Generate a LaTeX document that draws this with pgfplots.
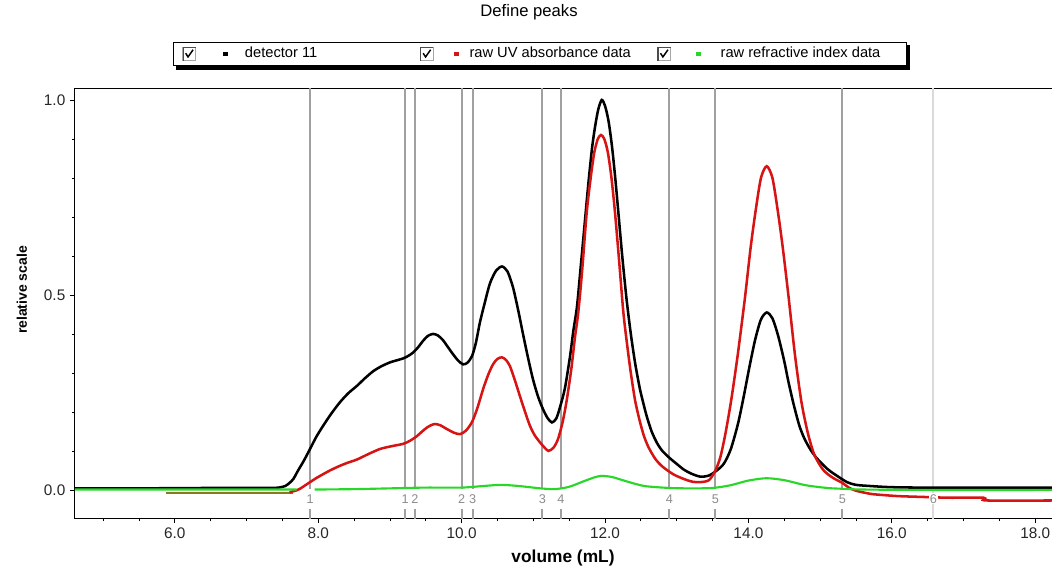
\documentclass[border=0pt]{standalone}
\usepackage{fontspec}
\setmainfont{Liberation Sans}
\usepackage{pgfplots}
\pgfplotsset{compat=1.18}

\definecolor{vline}{RGB}{160,160,160}
\definecolor{vlinelight}{RGB}{218,218,218}
\definecolor{uvred}{RGB}{215,20,20}
\definecolor{rigreen}{RGB}{40,215,40}
\definecolor{oliveline}{RGB}{140,120,30}

% checkbox + dot used as legend image; #1 dot x, #2 dot colour, #3 where the text starts
\newcommand{\chk}[3]{%
  \fill[white] (0pt,-4.9pt) rectangle (9.75pt,4.9pt);
  \draw[line width=0.6pt, black!35] (0pt,-4.9pt) rectangle (9.75pt,4.9pt);
  \draw[line width=0.9pt, black!70] (0.3pt,-4.9pt) -- (0.3pt,4.6pt) -- (9.75pt,4.6pt);
  \draw[line width=1.1pt, black] (2.2pt,0.6pt) -- (4pt,-2.2pt) -- (7.8pt,3.2pt);
  \fill[#2] ([xshift=-0.8pt]#1,-0.8pt) rectangle ([xshift=0.8pt]#1,0.8pt);
  \path (#3,0pt);
}

\begin{document}
\begin{tikzpicture}
\begin{axis}[
  scale only axis,
  width=736.29pt, height=321.75pt,
  xmin=4.608, xmax=18.3,
  ymin=-0.072, ymax=1.028,
  xtick={6,8,...,18},
  minor xtick={5,5.5,...,18},
  ytick={0,0.5,1},
  minor ytick={0.1,0.2,0.3,0.4,0.6,0.7,0.8,0.9},
  tick align=outside,
  xtick pos=lower, ytick pos=left,
  major tick length=3.75pt, minor tick length=2.25pt,
  tick style={black, line width=0.6pt},
  axis line style={line width=0.75pt},
  ticklabel style={font=\fontsize{11.5}{13}\selectfont, text=black!85},
  xticklabel style={/pgf/number format/fixed, /pgf/number format/fixed zerofill,
    /pgf/number format/precision=1, /pgf/number format/assume math mode=true},
  yticklabel style={/pgf/number format/fixed, /pgf/number format/fixed zerofill,
    /pgf/number format/precision=1, /pgf/number format/assume math mode=true},
  title={Define peaks},
  title style={at={(0.4625,1.1608)}, anchor=center, font=\fontsize{12.5}{14}\selectfont},
  xlabel={volume (mL)},
  xlabel style={at={(axis description cs:0.4971,-0.0932)}, anchor=center,
    font=\bfseries\fontsize{13}{15}\selectfont},
  ylabel={relative scale},
  ylabel style={at={(axis description cs:-0.054,0.5315)}, anchor=center,
    font=\bfseries\fontsize{10.5}{12}\selectfont},
  legend columns=3,
  legend cell align=left,
  legend style={name=lgd, at={(0.4737,1.0816)}, anchor=center, draw=black, line width=0.6pt,
    fill=white, inner xsep=6pt, inner ysep=3pt,
    font=\fontsize{11}{13}\selectfont,
    nodes={inner sep=0pt, text depth=0.25em, text height=0.8em}},
  unbounded coords=jump,
]

% peak boundaries
\addplot[vline, line width=1.4pt, forget plot] coordinates {
  (7.886,1.03) (7.886,0.003) (7.886,nan)
  (9.211,1.03) (9.211,0.003) (9.211,nan)
  (9.350,1.03) (9.350,0.003) (9.350,nan)
  (10.001,1.03) (10.001,0.003) (10.001,nan)
  (10.155,1.03) (10.155,0.003) (10.155,nan)
  (11.126,1.03) (11.126,0.003) (11.126,nan)
  (11.386,1.03) (11.386,0.003) (11.386,nan)
  (12.897,1.03) (12.897,0.003) (12.897,nan)
  (13.538,1.03) (13.538,0.003) (13.538,nan)
  (15.310,1.03) (15.310,0.003)
};
\addplot[vline, line width=1.4pt, forget plot] coordinates {
  (7.886,-0.048) (7.886,-0.075) (7.886,nan)
  (9.211,-0.048) (9.211,-0.075) (9.211,nan)
  (9.350,-0.048) (9.350,-0.075) (9.350,nan)
  (10.001,-0.048) (10.001,-0.075) (10.001,nan)
  (10.155,-0.048) (10.155,-0.075) (10.155,nan)
  (11.126,-0.048) (11.126,-0.075) (11.126,nan)
  (11.386,-0.048) (11.386,-0.075) (11.386,nan)
  (12.897,-0.048) (12.897,-0.075) (12.897,nan)
  (13.538,-0.048) (13.538,-0.075) (13.538,nan)
  (15.310,-0.048) (15.310,-0.075)
};
\addplot[vlinelight, line width=1.4pt, forget plot] coordinates {(16.579,1.03) (16.579,-0.075)};

% olive overlap at the start of the UV trace
\addplot[oliveline, line width=1.6pt, forget plot] coordinates {(5.88,-0.008) (7.65,-0.008)};

% detector 11
\addplot[black, line width=1.9pt, smooth, tension=0.45,
  legend image code/.code={\chk{32.25pt}{black}{45.75pt}}] coordinates {
  (4.608,0.004) (5.5,0.004) (6.5,0.005) (7.3,0.005) (7.45,0.006) (7.54,0.01) (7.6,0.018)
  (7.653,0.028) (7.72,0.05) (7.8,0.075) (7.886,0.105) (7.97,0.135) (8.067,0.164)
  (8.18,0.195) (8.304,0.225) (8.42,0.248) (8.541,0.267) (8.65,0.286) (8.764,0.304)
  (8.88,0.317) (9.001,0.327) (9.09,0.332) (9.182,0.337) (9.25,0.343) (9.322,0.352)
  (9.39,0.365) (9.461,0.382) (9.53,0.395) (9.601,0.40) (9.67,0.396) (9.74,0.384)
  (9.81,0.366) (9.88,0.348) (9.95,0.332) (10.019,0.322) (10.08,0.326) (10.145,0.343)
  (10.2,0.378) (10.256,0.43) (10.33,0.485) (10.396,0.53) (10.48,0.562) (10.563,0.573)
  (10.64,0.56) (10.716,0.52) (10.79,0.46) (10.856,0.40) (10.925,0.34) (10.995,0.284)
  (11.065,0.24) (11.135,0.207) (11.2,0.184) (11.26,0.173) (11.32,0.183) (11.372,0.212)
  (11.44,0.26) (11.51,0.34) (11.56,0.41) (11.609,0.47) (11.66,0.57) (11.72,0.69)
  (11.77,0.79) (11.818,0.875) (11.86,0.93) (11.905,0.975) (11.954,1.0) (12.0,0.985)
  (12.05,0.945) (12.098,0.88) (12.14,0.805) (12.182,0.72) (12.24,0.6) (12.3,0.49)
  (12.36,0.40) (12.42,0.325) (12.48,0.265) (12.517,0.235) (12.58,0.19) (12.65,0.15)
  (12.726,0.12) (12.8,0.1) (12.9,0.082) (13.005,0.066) (13.1,0.052) (13.2,0.042)
  (13.33,0.034) (13.45,0.037) (13.56,0.05) (13.66,0.068) (13.755,0.105) (13.855,0.17)
  (13.935,0.24) (14.015,0.316) (14.095,0.386) (14.175,0.437) (14.255,0.455) (14.335,0.44)
  (14.415,0.395) (14.5,0.33) (14.555,0.28) (14.63,0.22) (14.71,0.165) (14.78,0.132)
  (14.86,0.105) (14.95,0.082) (15.1,0.054) (15.22,0.038) (15.375,0.02) (15.5,0.013)
  (15.7,0.01) (16.0,0.007) (16.5,0.006) (18.3,0.006)
};
\addlegendentry{\makebox[130.5pt][l]{detector 11}}

% raw UV absorbance data
\addplot[uvred, line width=1.9pt, smooth, tension=0.45,
  legend image code/.code={\chk{27pt}{uvred}{36pt}}] coordinates {
  (7.6,-0.006) (7.7,-0.001) (7.746,0.003) (7.82,0.012) (7.886,0.02) (7.97,0.03)
  (8.065,0.04) (8.165,0.05) (8.28,0.06) (8.4,0.069) (8.541,0.078) (8.7,0.092)
  (8.862,0.105) (9.02,0.112) (9.182,0.118) (9.28,0.126) (9.377,0.138) (9.45,0.15)
  (9.517,0.16) (9.575,0.166) (9.629,0.169) (9.7,0.166) (9.796,0.156) (9.89,0.147)
  (9.977,0.143) (10.06,0.152) (10.145,0.174) (10.22,0.21) (10.299,0.258) (10.37,0.295)
  (10.438,0.322) (10.5,0.336) (10.563,0.34) (10.62,0.333) (10.675,0.317) (10.745,0.28)
  (10.814,0.24) (10.885,0.2) (10.954,0.164) (11.02,0.14) (11.093,0.122) (11.15,0.11)
  (11.209,0.10) (11.28,0.108) (11.344,0.13) (11.41,0.175) (11.466,0.23) (11.53,0.31)
  (11.58,0.39) (11.627,0.455) (11.68,0.56) (11.744,0.71) (11.8,0.80) (11.85,0.865)
  (11.9,0.90) (11.944,0.91) (11.99,0.90) (12.04,0.865) (12.09,0.80) (12.14,0.71)
  (12.2,0.58) (12.256,0.455) (12.31,0.37) (12.36,0.30) (12.419,0.23) (12.48,0.18)
  (12.54,0.14) (12.605,0.11) (12.7,0.08) (12.8,0.06) (12.953,0.04) (13.1,0.028)
  (13.22,0.021) (13.33,0.02) (13.45,0.025) (13.54,0.05) (13.61,0.085) (13.68,0.145)
  (13.76,0.23) (13.85,0.345) (13.95,0.49) (14.03,0.62) (14.1,0.715) (14.175,0.80)
  (14.255,0.83) (14.335,0.80) (14.41,0.715) (14.48,0.62) (14.56,0.495) (14.65,0.345)
  (14.74,0.225) (14.83,0.145) (14.92,0.09) (15.04,0.052) (15.17,0.032) (15.31,0.018)
  (15.4,0.006) (15.5,-0.002) (15.7,-0.01) (15.87,-0.013) (16.1,-0.016) (16.43,-0.018)
  (16.8,-0.02) (17.28,-0.02) (17.32,-0.027) (18.3,-0.027)
};
\addlegendentry{\makebox[140.25pt][l]{raw UV absorbance data}}

% raw refractive index data
\addplot[rigreen, line width=1.6pt, smooth, tension=0.45,
  legend image code/.code={\chk{30.75pt}{rigreen}{46.5pt}}] coordinates {
  (4.608,0.001) (6.0,0.001) (7.0,0.001) (7.7,0.001) (7.8,nan)
  (7.95,0.001) (8.5,0.002) (9.0,0.004) (9.5,0.006) (10.0,0.006) (10.3,0.01)
  (10.55,0.013) (10.8,0.01) (11.1,0.004) (11.3,0.002) (11.5,0.008) (11.7,0.022)
  (11.85,0.032) (11.95,0.036) (12.1,0.033) (12.3,0.022) (12.55,0.01) (12.9,0.005)
  (13.2,0.004) (13.5,0.005) (13.75,0.012) (14.0,0.024) (14.25,0.03) (14.5,0.025)
  (14.8,0.012) (15.1,0.005) (15.3,0.003) (15.6,0.001) (16.5,0.0) (18.3,0.0)
};
\addlegendentry{\makebox[133.5pt][l]{raw refractive index data}}

% boundary labels
\tikzset{blab/.style={font=\fontsize{9.5}{10}\selectfont, text=black!45, fill=white, inner sep=0.8pt}}
\node[blab] at (axis cs:7.886,-0.023) {1};
\node[blab] at (axis cs:9.211,-0.023) {1};
\node[blab] at (axis cs:9.350,-0.023) {2};
\node[blab] at (axis cs:10.001,-0.023) {2};
\node[blab] at (axis cs:10.155,-0.023) {3};
\node[blab] at (axis cs:11.126,-0.023) {3};
\node[blab] at (axis cs:11.386,-0.023) {4};
\node[blab] at (axis cs:12.897,-0.023) {4};
\node[blab] at (axis cs:13.538,-0.023) {5};
\node[blab] at (axis cs:15.310,-0.023) {5};
\node[blab] at (axis cs:16.579,-0.023) {6};
\end{axis}
% drop shadow of the legend box
\fill[black] ([yshift=-2.5pt]lgd.north east) rectangle ([xshift=2.5pt,yshift=-2.5pt]lgd.south east);
\fill[black] ([xshift=2.5pt]lgd.south west) rectangle ([xshift=2.5pt,yshift=-2.5pt]lgd.south east);
\pgfresetboundingbox
\path[use as bounding box] (-56.25pt,-37.5pt) rectangle (732.75pt,388.5pt);
\end{tikzpicture}
\end{document}
